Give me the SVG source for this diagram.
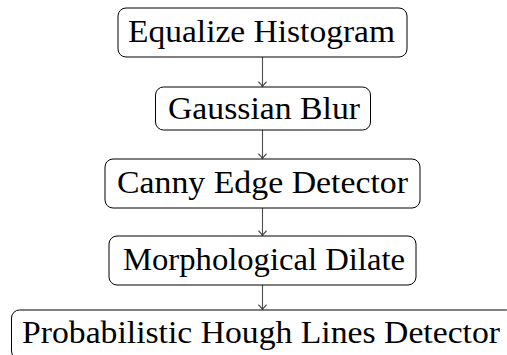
<svg xmlns="http://www.w3.org/2000/svg" width="507" height="355" viewBox="0 0 507 355">
  <style>
    .box { fill: #ffffff; stroke: #000000; stroke-width: 1; }
    .lbl { font-family: "Liberation Serif", "Times New Roman", serif; font-size: 32px; fill: #000000; text-anchor: start; }
    .edge { stroke: #4d4d4d; stroke-width: 1.1; fill: none; }
    .tip { stroke: #4d4d4d; stroke-width: 1.1; fill: none; stroke-linecap: round; stroke-linejoin: round; }
  </style>
  <defs>
    <marker id="arrow" markerUnits="userSpaceOnUse" viewBox="-6 -6 12 12" refX="0" refY="0" markerWidth="12" markerHeight="12" orient="auto">
      <path class="tip" d="M -4.5 -3.8 Q -1.4 -0.7 0 0 Q -1.4 0.7 -4.5 3.8"/>
    </marker>
  </defs>
  <rect width="507" height="355" fill="#ffffff"/>

  <g id="connectors">
    <path class="edge" d="M 262.5 57 L 262.5 86.5" marker-end="url(#arrow)"/>
    <path class="edge" d="M 262.5 130 L 262.5 158.5" marker-end="url(#arrow)"/>
    <path class="edge" d="M 262.5 208 L 262.5 235.5" marker-end="url(#arrow)"/>
    <path class="edge" d="M 262.5 285 L 262.5 309.5" marker-end="url(#arrow)"/>
  </g>

  <g id="equalize-histogram">
    <rect class="box" x="118" y="8" width="289" height="49" rx="8"/>
    <text class="lbl" x="128" y="41.5" textLength="267" lengthAdjust="spacingAndGlyphs">Equalize Histogram</text>
  </g>

  <g id="gaussian-blur">
    <rect class="box" x="155.5" y="87" width="215" height="43" rx="8"/>
    <text class="lbl" x="168" y="119" textLength="192" lengthAdjust="spacingAndGlyphs">Gaussian Blur</text>
  </g>

  <g id="canny-edge-detector">
    <rect class="box" x="105" y="159" width="315" height="49" rx="8"/>
    <text class="lbl" x="117" y="192.5" textLength="291" lengthAdjust="spacingAndGlyphs">Canny Edge Detector</text>
  </g>

  <g id="morphological-dilate">
    <rect class="box" x="109" y="236" width="307" height="49" rx="8"/>
    <text class="lbl" x="123" y="269.5" textLength="282" lengthAdjust="spacingAndGlyphs">Morphological Dilate</text>
  </g>

  <g id="probabilistic-hough-lines-detector">
    <rect class="box" x="11.5" y="310" width="503" height="49" rx="8"/>
    <text class="lbl" x="22" y="343" textLength="478" lengthAdjust="spacingAndGlyphs">Probabilistic Hough Lines Detector</text>
  </g>
</svg>
